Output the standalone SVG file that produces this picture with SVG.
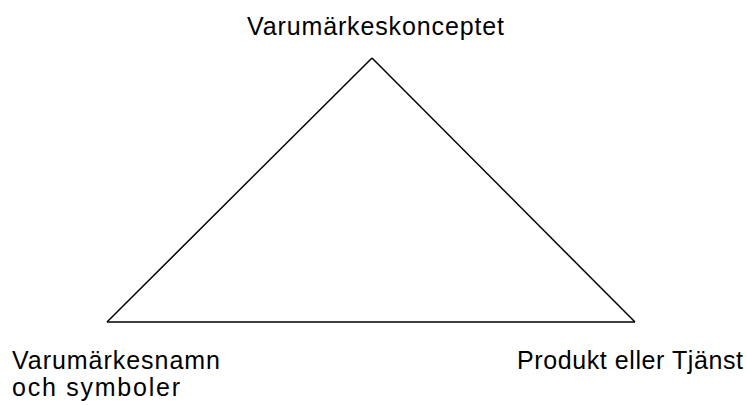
<svg xmlns="http://www.w3.org/2000/svg" width="747" height="405" viewBox="0 0 747 405">
<style>
text{font-family:"Liberation Sans",Arial,sans-serif;font-size:25px;fill:#000}
.edge{stroke:#000;stroke-width:1.5;fill:none}
</style>
<rect width="747" height="405" fill="#fff"/>
<g id="connectors">
<path class="edge" d="M372,58 L107,322"/>
<path class="edge" d="M372,58 L635,322"/>
<path class="edge" d="M107,322 L635,322"/>
</g>
<g id="node-top"><text x="247" y="35" textLength="257" lengthAdjust="spacing">Varumärkeskonceptet</text></g>
<g id="node-left"><text x="12" y="369" textLength="208" lengthAdjust="spacing">Varumärkesnamn</text><text x="12" y="396" textLength="168" lengthAdjust="spacing">och symboler</text></g>
<g id="node-right"><text x="517" y="369" textLength="226" lengthAdjust="spacing">Produkt eller Tjänst</text></g>
</svg>
